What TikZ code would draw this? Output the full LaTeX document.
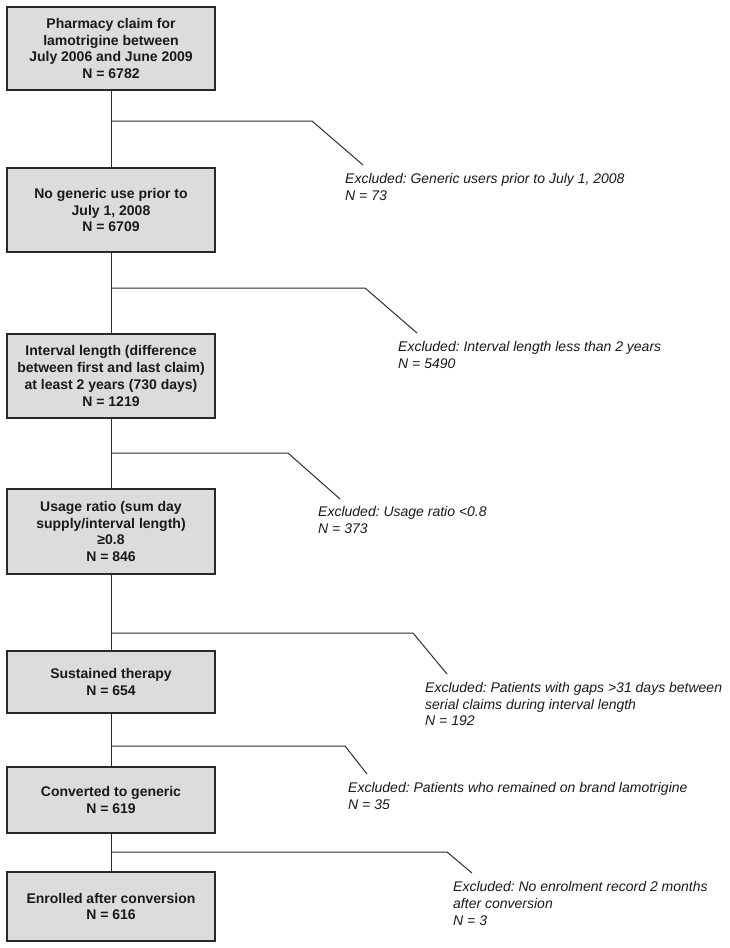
\documentclass[tikz,border=0pt]{standalone}
\usepackage{fontspec}
\setmainfont{Liberation Sans}
\frenchspacing
\definecolor{boxfill}{RGB}{220,220,220}
\definecolor{boxline}{RGB}{40,40,40}
\definecolor{connline}{RGB}{45,45,45}
\definecolor{txt}{RGB}{25,25,25}
\tikzset{
  stagebox/.style={draw=boxline, line width=1.2pt, fill=boxfill, align=center,
    inner sep=0pt, minimum width=208pt, text=txt,
    font=\fontsize{14}{16.8}\selectfont\bfseries},
  exclnote/.style={anchor=north west, align=left, inner sep=0pt, text=txt,
    font=\fontsize{14}{16.8}\selectfont\itshape},
  conn/.style={draw=connline, line width=1pt},
}
\begin{document}
\begin{tikzpicture}[x=1pt,y=-1pt]
\useasboundingbox (0,0) rectangle (729,948);

% stage boxes
\node[stagebox, minimum height=83pt] (b1) at (111,48.5)
  {Pharmacy claim for\\lamotrigine between\\July 2006 and June 2009\\N = 6782};
\node[stagebox, minimum height=84pt] (b2) at (111,210)
  {No generic use prior to\\July 1, 2008\\N = 6709};
\node[stagebox, minimum height=84pt] (b3) at (111,376)
  {Interval length (difference\\between first and last claim)\\at least 2 years (730 days)\\N = 1219};
\node[stagebox, minimum height=85pt] (b4) at (111,531.5)
  {Usage ratio (sum day\\supply/interval length)\\≥0.8\\N = 846};
\node[stagebox, minimum height=62pt] (b5) at (111,682)
  {Sustained therapy\\N = 654};
\node[stagebox, minimum height=66pt] (b6) at (111,800)
  {Converted to generic\\N = 619};
\node[stagebox, minimum height=69pt] (b7) at (111,906.5)
  {Enrolled after conversion\\N = 616};

% vertical connectors
\draw[conn] (b1.south) -- (b2.north);
\draw[conn] (b2.south) -- (b3.north);
\draw[conn] (b3.south) -- (b4.north);
\draw[conn] (b4.south) -- (b5.north);
\draw[conn] (b5.south) -- (b6.north);
\draw[conn] (b6.south) -- (b7.north);

% branch points, bends and ends
\coordinate (j1) at (111,121);   \coordinate (k1) at (312,121);   \coordinate (e1) at (363,165);
\coordinate (j2) at (111,288);   \coordinate (k2) at (365,288);   \coordinate (e2) at (417,333);
\coordinate (j3) at (111,453);   \coordinate (k3) at (288,453);   \coordinate (e3) at (340,499);
\coordinate (j4) at (111,633);   \coordinate (k4) at (413,633);   \coordinate (e4) at (447,674);
\coordinate (j5) at (111,746);   \coordinate (k5) at (345,746);   \coordinate (e5) at (367,774);
\coordinate (j6) at (111,852);   \coordinate (k6) at (447,852);   \coordinate (e6) at (472,873);

\draw[conn] (j1) -- (k1) -- (e1);
\draw[conn] (j2) -- (k2) -- (e2);
\draw[conn] (j3) -- (k3) -- (e3);
\draw[conn] (j4) -- (k4) -- (e4);
\draw[conn] (j5) -- (k5) -- (e5);
\draw[conn] (j6) -- (k6) -- (e6);

% exclusion notes
\node[exclnote] (x1) at (345,173.5) {Excluded: Generic users prior to July 1, 2008\\N = 73};
\node[exclnote] (x2) at (398,341) {Excluded: Interval length less than 2 years\\N = 5490};
\node[exclnote] (x3) at (318,506.5) {Excluded: Usage ratio <0.8\\N = 373};
\node[exclnote] (x4) at (425,682) {Excluded: Patients with gaps >31 days between\\serial claims during interval length\\N = 192};
\node[exclnote] (x5) at (348,782) {Excluded: Patients who remained on brand lamotrigine\\N = 35};
\node[exclnote] (x6) at (453,881.5) {Excluded: No enrolment record 2 months\\after conversion\\N = 3};
\end{tikzpicture}
\end{document}
